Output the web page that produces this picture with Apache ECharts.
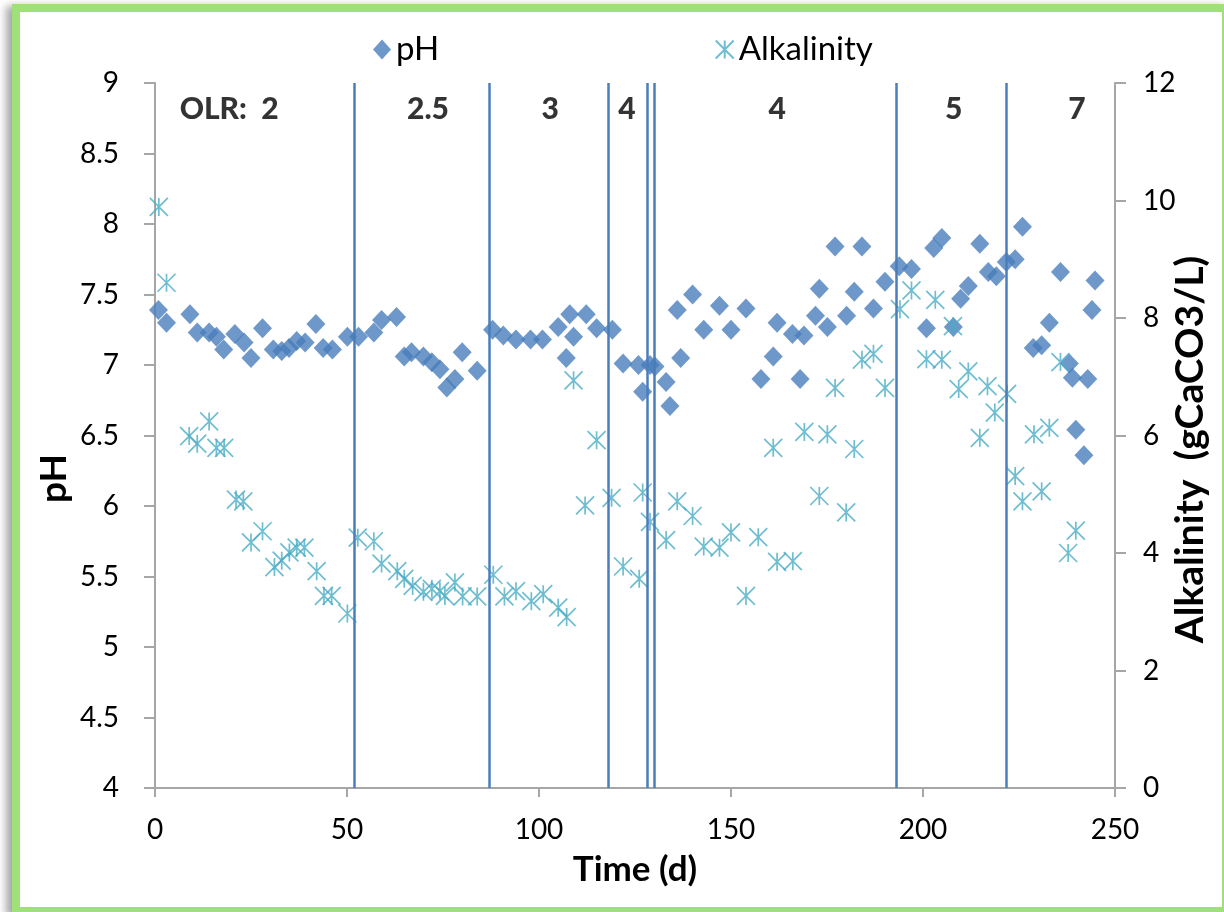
<!DOCTYPE html>
<html>
<head>
<meta charset="utf-8">
<script src="https://cdn.jsdelivr.net/npm/echarts@6/dist/echarts.min.js"></script>
<style>
html,body{margin:0;padding:0;background:#fff;width:1224px;height:912px;overflow:hidden;}
#frame{position:absolute;left:12px;top:4px;width:1218px;height:911px;box-sizing:border-box;border:8px solid #9fe07a;box-shadow:-6px 2px 8px rgba(0,0,0,0.35);background:#fff;}
#chart{position:absolute;left:0;top:0;width:1224px;height:912px;}
</style>
</head>
<body>
<div id="frame"></div>
<div id="chart"></div>
<script>
// pH series: [day, pH]
const phDays = [0.9,3.0,9.1,11.0,14.1,16.0,17.9,20.8,23.2,25.0,28.0,30.8,33.0,34.9,36.9,39.1,41.9,43.8,46.2,50.1,53.0,57.0,59.0,62.9,64.9,66.8,69.9,72.1,74.2,76.0,78.1,80.0,83.9,87.9,90.7,94.0,97.8,100.9,105.0,107.1,108.0,109.0,112.3,115.0,119.1,121.9,125.9,127.0,128.9,130.2,133.1,134.1,136.0,136.9,140.0,142.9,147.0,150.0,153.9,157.8,161.0,162.0,166.0,168.0,169.0,172.0,173.0,175.1,177.1,180.1,182.1,184.1,187.1,190.1,193.8,197.0,200.9,202.8,204.9,207.9,209.8,211.8,214.8,217.0,219.1,221.7,224.0,225.9,228.7,230.9,232.9,235.8,238.1,238.9,239.8,241.9,242.9,244.0,244.8];
const phValues = [7.39,7.30,7.36,7.23,7.23,7.20,7.11,7.22,7.16,7.05,7.26,7.11,7.10,7.12,7.17,7.16,7.29,7.12,7.11,7.20,7.20,7.23,7.32,7.34,7.06,7.09,7.06,7.02,6.97,6.84,6.90,7.09,6.96,7.25,7.21,7.18,7.18,7.18,7.27,7.05,7.36,7.20,7.36,7.26,7.25,7.01,7.00,6.81,7.00,6.99,6.88,6.71,7.39,7.05,7.50,7.25,7.42,7.25,7.40,6.90,7.06,7.30,7.22,6.90,7.21,7.35,7.54,7.27,7.84,7.35,7.52,7.84,7.40,7.59,7.70,7.68,7.26,7.83,7.90,7.27,7.47,7.56,7.86,7.66,7.63,7.73,7.75,7.98,7.12,7.14,7.30,7.66,7.01,6.91,6.54,6.36,6.90,7.39,7.60];
// Alkalinity series: [day, gCaCO3/L]
const alkDays = [1.0,3.0,8.9,11.0,14.1,16.0,18.0,21.1,23.0,25.0,28.0,31.1,33.0,35.0,36.9,38.9,42.1,44.0,46.0,50.1,52.8,57.0,59.0,63.1,64.9,67.1,69.9,72.1,74.2,75.5,78.1,80.1,83.9,88.1,91.0,94.0,98.0,101.1,105.0,107.2,109.0,112.0,115.0,118.9,121.9,126.1,127.0,128.9,133.1,136.0,140.0,142.9,147.0,150.0,153.9,157.1,161.0,162.0,166.1,169.1,173.0,175.1,177.1,180.0,182.1,184.1,187.1,190.1,194.0,197.0,200.9,203.2,204.9,207.8,209.3,211.8,214.8,216.8,218.7,221.9,224.0,225.9,228.9,230.9,232.9,235.8,237.8,239.8];
const alkValues = [9.89,8.60,5.99,5.86,6.24,5.79,5.79,4.91,4.88,4.18,4.37,3.76,3.87,4.01,4.09,4.09,3.69,3.27,3.27,2.97,4.26,4.20,3.82,3.69,3.56,3.44,3.34,3.39,3.35,3.27,3.50,3.26,3.26,3.63,3.26,3.35,3.18,3.30,3.07,2.91,6.94,4.81,5.92,4.94,3.77,3.56,5.03,4.53,4.22,4.88,4.63,4.11,4.09,4.35,3.27,4.27,5.79,3.85,3.86,6.06,4.97,6.02,6.81,4.69,5.77,7.29,7.39,6.81,8.15,8.47,7.30,8.31,7.29,7.86,6.79,7.09,5.96,6.84,6.39,6.71,5.31,4.88,6.02,5.05,6.13,7.25,4.00,4.38];
// OLR period boundaries (day) and labels
const olrBoundaries = [51.9,87.0,118.0,128.2,130.0,193.0,221.8];
const olrLabelDays = [19.3,71.1,102.9,122.9,162.0,208.0,240.1];
const olrLabelTexts = ['OLR:  2','2.5','3','4','4','5','7'];
const olrLabelY = 8.81;
// Axis tick settings
const xTicks = {min:0,max:250,interval:50};
const phTicks = {min:4,max:9,interval:0.5};
const alkTicks = {min:0,max:12,interval:2};

const FONT = 'Lato, "Liberation Sans", sans-serif';
const axisGray = '#a6a6a6';
const phColor = '#4a7ebb';
const alkColor = '#4bacc6';
const asterisk = 'path://M0,0L10,10M10,0L0,10M5,0L5,10';

const chart = echarts.init(document.getElementById('chart'), null, {renderer:'canvas'});
const option = {
  animation:false,
  backgroundColor:'transparent',
  textStyle:{fontFamily:FONT},
  grid:{left:155,right:109,top:83,bottom:124,containLabel:false,outerBoundsMode:'none'},
  legend:{
    data:['pH','Alkalinity'],
    left:368, top:28, itemGap:274, itemWidth:18, itemHeight:20,
    textStyle:{fontSize:33,color:'#000',fontFamily:FONT}
  },
  xAxis:{
    type:'value', min:xTicks.min, max:xTicks.max, interval:xTicks.interval,
    name:'Time (d)', nameLocation:'middle', nameGap:64, nameMoveOverlap:false,
    nameTextStyle:{fontSize:35,fontWeight:'bold',color:'#000',fontFamily:FONT},
    axisLine:{show:true,lineStyle:{color:axisGray,width:2}},
    axisTick:{show:true,length:9,lineStyle:{color:axisGray,width:2}},
    axisLabel:{fontSize:28,color:'#000',margin:28,fontFamily:FONT},
    splitLine:{show:false}
  },
  yAxis:[{
    type:'value', min:phTicks.min, max:phTicks.max, interval:phTicks.interval,
    name:'pH', nameLocation:'middle', nameGap:82, nameRotate:90, nameMoveOverlap:false,
    nameTextStyle:{fontSize:37,fontWeight:'bold',color:'#000',fontFamily:FONT,padding:[0,86,0,0]},
    axisLine:{show:true,lineStyle:{color:axisGray,width:2}},
    axisTick:{show:true,length:11,lineStyle:{color:axisGray,width:2}},
    axisLabel:{fontSize:28,color:'#000',margin:36,fontFamily:FONT},
    splitLine:{show:false}
  },{
    type:'value', position:'right', min:alkTicks.min, max:alkTicks.max, interval:alkTicks.interval,
    name:'Alkalinity  (gCaCO3/L)', nameLocation:'middle', nameGap:56, nameRotate:90, nameMoveOverlap:false,
    nameTextStyle:{fontSize:39,fontWeight:'bold',color:'#000',fontFamily:FONT,padding:[0,28,0,0]},
    axisLine:{show:true,lineStyle:{color:axisGray,width:2}},
    axisTick:{show:true,length:11,lineStyle:{color:axisGray,width:2}},
    axisLabel:{fontSize:28,color:'#000',margin:28,fontFamily:FONT},
    splitLine:{show:false}
  }],
  series:[
    {
      name:'OLR', type:'scatter', yAxisIndex:0, silent:true, symbolSize:0, z:1,
      data: olrLabelDays.map((d,i)=>[d, olrLabelY, olrLabelTexts[i]]),
      label:{show:true,position:'inside',formatter:p=>p.data[2],fontSize:30,fontWeight:900,color:'#000',fontFamily:FONT},
      markLine:{
        silent:true, symbol:['none','none'],
        lineStyle:{color:phColor,width:2.5,type:'solid'},
        label:{show:false},
        data: olrBoundaries.map(x=>({xAxis:x}))
      }
    },
    {
      name:'pH', type:'scatter', yAxisIndex:0, z:3,
      symbol:'diamond', symbolSize:[19,20],
      itemStyle:{color:phColor},
      data: phDays.map((d,i)=>[d, phValues[i]])
    },
    {
      name:'Alkalinity', type:'scatter', yAxisIndex:1, z:4,
      symbol:asterisk, symbolSize:18,
      itemStyle:{color:'none',borderColor:alkColor,borderWidth:1.7},
      data: alkDays.map((d,i)=>[d, alkValues[i]])
    }
  ]
};
chart.setOption(option);
</script>
</body>
</html>
